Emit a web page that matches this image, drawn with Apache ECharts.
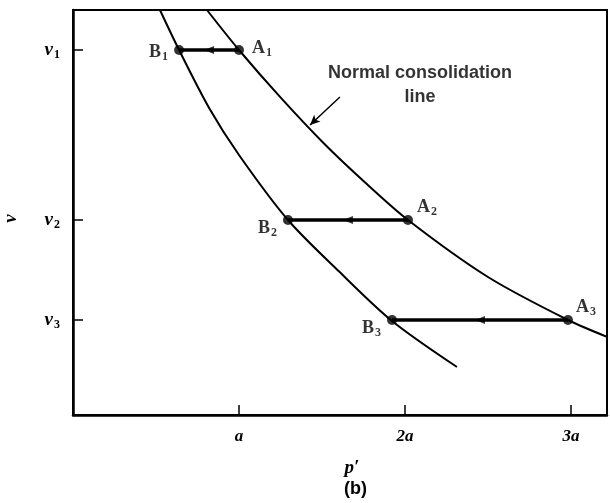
<!DOCTYPE html>
<html>
<head>
<meta charset="utf-8">
<script src="https://cdn.jsdelivr.net/npm/echarts@6/dist/echarts.min.js"></script>
<style>html,body{margin:0;padding:0;background:#fff}#c{width:610px;height:503px}</style>
</head>
<body>
<div id="c"></div>
<script>
// ---- data (p' in units of a, v in arbitrary units) ----
const pTickValues = [1, 2, 3];
const pTickLabels = ['a', '2a', '3a'];
const vTickValues = [3.65, 1.95, 0.95];
const vTickSubs = ['1', '2', '3'];

// Normal consolidation line
const nclP = [0.807, 1.0, 1.25, 1.509, 1.75, 2.018, 2.5, 2.982, 3.235];
const nclV = [4.05, 3.65, 3.176, 2.72, 2.34, 1.95, 1.38, 0.95, 0.77];

// Lower curve (through B points)
const lowP = [0.524, 0.639, 0.82, 1.0, 1.295, 1.6, 1.922, 2.313];
const lowV = [4.05, 3.65, 3.07, 2.6, 1.95, 1.44, 0.94, 0.48];

// Points A and B
const aNames = ['A', 'A', 'A'];
const bNames = ['B', 'B', 'B'];
const pointSubs = ['1', '2', '3'];
const aP = [1.0, 2.018, 2.982];
const bP = [0.639, 1.295, 1.922];
const pointV = [3.65, 1.95, 0.95];

// annotation
const noteText = ['Normal consolidation', 'line'];
const notePos = [2.09, 3.30];
const noteArrowFrom = [1.608, 3.18];
const noteArrowTo = [1.428, 2.90];

const chart = echarts.init(document.getElementById('c'), null, {renderer: 'canvas'});

const serif = "'Liberation Serif', 'DejaVu Serif', serif";
const sans = "'Liberation Sans', Arial, sans-serif";

const aLabelCfg = [
  {position: 'right', distance: 8, offset: [0, -2]},
  {position: 'right', distance: 4, offset: [0, -13]},
  {position: 'right', distance: 3, offset: [0, -13]}
];
const bLabelCfg = [
  {position: 'left', distance: 6, offset: [0, 2]},
  {position: 'left', distance: 6, offset: [0, 8]},
  {position: 'left', distance: 6, offset: [0, 8]}
];

const ptRich = {
  m: {fontFamily: serif, fontWeight: 'bold', fontSize: 18, color: '#000'},
  s: {fontFamily: serif, fontWeight: 'bold', fontSize: 12, color: '#000', padding: [10, 0, 0, 1]}
};

function pointData(names, ps, cfgs) {
  return ps.map((p, i) => ({
    value: [p, pointV[i]],
    label: Object.assign({
      show: true,
      formatter: '{m|' + names[i] + '}{s|' + pointSubs[i] + '}',
      rich: ptRich
    }, cfgs[i])
  }));
}

const pathSeries = aP.map((p, i) => ({
  type: 'line',
  data: [[p, pointV[i]], [bP[i], pointV[i]]],
  symbol: 'none',
  lineStyle: {color: '#000', width: 3.5},
  z: 3
}));

const option = {
  animation: false,
  backgroundColor: '#fff',
  grid: {left: 73, right: 3, top: 10, bottom: 88, containLabel: false, outerBoundsMode: 'none',
         show: true, borderColor: '#000', borderWidth: 2},
  xAxis: {
    type: 'value', min: 0, max: 3.217,
    name: "p\u2032", nameLocation: 'middle', nameGap: 44,
    nameTextStyle: {fontFamily: serif, fontStyle: 'italic', fontWeight: 'bold', fontSize: 19, color: '#000', padding: [0, 0, 0, 24]},
    axisLine: {show: true, lineStyle: {color: '#000', width: 2.5}},
    axisTick: {show: true, inside: true, length: 10, customValues: pTickValues, lineStyle: {color: '#000', width: 1.5}},
    axisLabel: {
      show: true, customValues: pTickValues, margin: 13,
      formatter: v => pTickLabels[pTickValues.indexOf(v)] || '',
      fontFamily: serif, fontStyle: 'italic', fontWeight: 'bold', fontSize: 17, color: '#000'
    },
    splitLine: {show: false}
  },
  yAxis: {
    type: 'value', min: 0, max: 4.05,
    name: 'v', nameLocation: 'middle', nameGap: 52, nameRotate: 90,
    nameTextStyle: {fontFamily: serif, fontStyle: 'italic', fontWeight: 'bold', fontSize: 19, color: '#000', padding: [0, 12, 0, 0]},
    axisLine: {show: true, lineStyle: {color: '#000', width: 2.5}},
    axisTick: {show: true, inside: true, length: 10, customValues: vTickValues, lineStyle: {color: '#000', width: 1.5}},
    axisLabel: {
      show: true, customValues: vTickValues, margin: 13,
      formatter: v => '{m|v}{s|' + (vTickSubs[vTickValues.indexOf(v)] || '') + '}',
      rich: {
        m: {fontFamily: serif, fontStyle: 'italic', fontWeight: 'bold', fontSize: 19, color: '#000'},
        s: {fontFamily: serif, fontWeight: 'bold', fontSize: 12, color: '#000', padding: [9, 0, 0, 1]}
      }
    },
    splitLine: {show: false}
  },
  series: [
    {
      type: 'line', data: nclP.map((p, i) => [p, nclV[i]]),
      smooth: 0.3, symbol: 'none',
      lineStyle: {color: '#000', width: 2},
      markLine: {
        silent: true, symbol: ['none', 'arrow'], symbolSize: [7, 10],
        label: {show: false},
        lineStyle: {color: '#000', width: 1.5, type: 'solid'},
        data: [[{coord: noteArrowFrom}, {coord: noteArrowTo}]]
      }
    },
    {
      type: 'line', data: lowP.map((p, i) => [p, lowV[i]]),
      smooth: 0.3, symbol: 'none',
      lineStyle: {color: '#000', width: 2}
    },
    ...pathSeries,
    {
      type: 'scatter', symbol: 'triangle', symbolRotate: 90, symbolSize: [8, 10],
      itemStyle: {color: '#000'},
      data: aP.map((p, i) => [(p + bP[i]) / 2, pointV[i]]), z: 4
    },
    {
      type: 'scatter', symbolSize: 10, itemStyle: {color: '#000'}, z: 5,
      data: pointData(aNames, aP, aLabelCfg)
    },
    {
      type: 'scatter', symbolSize: 10, itemStyle: {color: '#000'}, z: 5,
      data: pointData(bNames, bP, bLabelCfg)
    },
    {
      type: 'scatter', symbolSize: 0, silent: true,
      data: [{
        value: notePos,
        label: {
          show: true, position: 'inside', align: 'center', verticalAlign: 'middle',
          formatter: noteText.join('\n'), lineHeight: 24,
          fontFamily: sans, fontWeight: 'bold', fontSize: 18, color: '#000'
        }
      }]
    }
  ],
  graphic: [{
    type: 'text', left: 344, top: 480,
    style: {text: '(b)', fontFamily: sans, fontWeight: 'bold', fontSize: 18, fill: '#000'}
  }]
};
chart.setOption(option);
</script>
</body>
</html>
